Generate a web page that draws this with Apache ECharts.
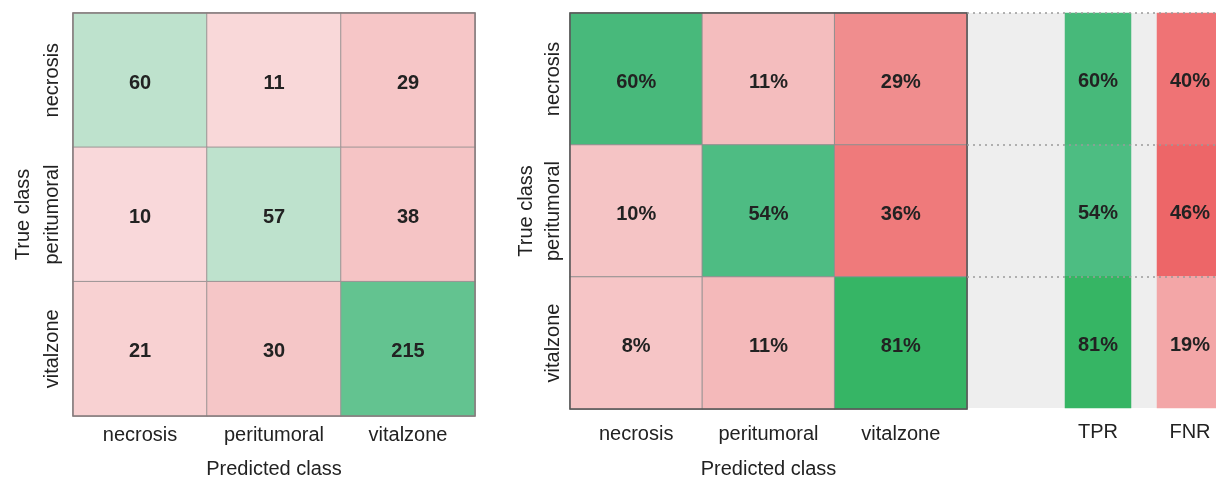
<!DOCTYPE html>
<html>
<head>
<meta charset="utf-8">
<script src="https://cdn.jsdelivr.net/npm/echarts@6/dist/echarts.min.js"></script>
<style>
  html, body { margin: 0; padding: 0; background: #fff; }
  #main { width: 1216px; height: 481px; }
</style>
</head>
<body>
<div id="main"></div>
<script>
// data
var classes = ['necrosis', 'peritumoral', 'vitalzone'];
var counts = [
  [60, 11, 29],
  [10, 57, 38],
  [21, 30, 215]
];
var percents = [
  [60, 11, 29],
  [10, 54, 36],
  [8, 11, 81]
];
var tpr = [60, 54, 81];
var fnr = [40, 46, 19];

// cell colours (kept apart from the values)
var countColors = [
  ['#bee2cd', '#f9d8d9', '#f6c6c7'],
  ['#f9d8da', '#bee2cd', '#f5c4c5'],
  ['#f8d1d2', '#f5c6c7', '#63c390']
];
var percentColors = [
  ['#48b97b', '#f4bdbe', '#f08d8e'],
  ['#f5c4c5', '#4ebc83', '#ef7a7b'],
  ['#f6c5c6', '#f4b9ba', '#36b565']
];
var tprColors = ['#47b97a', '#4dbd82', '#36b564'];
var fnrColors = ['#ef7375', '#ed6668', '#f3a6a7'];

var FONT = 'Liberation Sans';

function matrixData(vals, cols) {
  var out = [];
  vals.forEach(function (row, r) {
    row.forEach(function (v, c) {
      out.push({ value: [c, r, v], itemStyle: { color: cols[r][c] } });
    });
  });
  return out;
}
function columnData(vals, cols) {
  return vals.map(function (v, r) {
    return { value: [0, r, v], itemStyle: { color: cols[r] } };
  });
}

var labelStyle = { color: '#222', fontFamily: FONT, fontSize: 20, fontWeight: 'bold', offset: [0, 3] };

function catX(grid, data, margin, name, nameGap) {
  return {
    type: 'category', gridIndex: grid, data: data,
    axisLine: { show: false }, axisTick: { show: false }, splitLine: { show: false },
    axisLabel: { color: '#222', fontFamily: FONT, fontSize: 20, margin: margin },
    name: name, nameLocation: 'middle', nameGap: nameGap,
    nameTextStyle: { color: '#222', fontFamily: FONT, fontSize: 20 }
  };
}
function catY(grid, showLabels, margin, name, nameGap) {
  return {
    type: 'category', gridIndex: grid, data: classes, inverse: true,
    axisLine: { show: false }, axisTick: { show: false }, splitLine: { show: false },
    axisLabel: { show: showLabels, rotate: 90, color: '#222', fontFamily: FONT, fontSize: 20, margin: margin },
    name: name, nameLocation: 'middle', nameGap: nameGap,
    nameTextStyle: { color: '#222', fontFamily: FONT, fontSize: 20 }
  };
}

var chart = echarts.init(document.getElementById('main'));
var option = {
  animation: false,
  backgroundColor: '#fff',
  grid: [
    { left: 73, top: 13, width: 402, height: 403, show: true, borderColor: '#857c7d', borderWidth: 1.5, backgroundColor: 'transparent', z: 3, outerBoundsMode: 'none' },
    { left: 570, top: 13, width: 397, height: 396, show: true, borderColor: '#555', borderWidth: 1.5, backgroundColor: 'transparent', z: 3, outerBoundsMode: 'none' },
    { left: 967, top: 13, width: 260, height: 395, show: true, backgroundColor: '#eeeeee', borderWidth: 0, z: 0, outerBoundsMode: 'none' },
    { left: 1065, top: 13, width: 66, height: 395, outerBoundsMode: 'none' },
    { left: 1157, top: 13, width: 66, height: 395, outerBoundsMode: 'none' }
  ],
  xAxis: [
    catX(0, classes, 9, 'Predicted class', 43),
    catX(1, classes, 15, 'Predicted class', 50),
    { type: 'value', gridIndex: 2, show: false },
    catX(3, ['TPR'], 14, '', 0),
    catX(4, ['FNR'], 14, '', 0)
  ],
  yAxis: [
    catY(0, true, 11, 'True class', 40),
    catY(1, true, 7, 'True class', 34),
    {
      type: 'value', gridIndex: 2, min: 0, max: 3, interval: 1, z: 10,
      axisLine: { show: false }, axisTick: { show: false }, axisLabel: { show: false },
      splitLine: { show: true, showMinLine: false, lineStyle: { color: '#9a9a9a', type: [2, 4], width: 1.5 } }
    },
    catY(3, false, 0, '', 0),
    catY(4, false, 0, '', 0)
  ],
  series: [
    {
      type: 'heatmap', xAxisIndex: 0, yAxisIndex: 0,
      data: matrixData(counts, countColors),
      itemStyle: { borderColor: '#9d9495', borderWidth: 1 },
      label: Object.assign({ show: true, formatter: function (p) { return p.value[2]; } }, labelStyle),
      emphasis: { disabled: true }
    },
    {
      type: 'heatmap', xAxisIndex: 1, yAxisIndex: 1,
      data: matrixData(percents, percentColors),
      itemStyle: { borderColor: '#8f8f8f', borderWidth: 1 },
      label: Object.assign({ show: true, formatter: function (p) { return p.value[2] + '%'; } }, labelStyle),
      emphasis: { disabled: true }
    },
    {
      type: 'heatmap', xAxisIndex: 3, yAxisIndex: 3,
      data: columnData(tpr, tprColors),
      label: Object.assign({ show: true, formatter: function (p) { return p.value[2] + '%'; } }, labelStyle),
      emphasis: { disabled: true }
    },
    {
      type: 'heatmap', xAxisIndex: 4, yAxisIndex: 4,
      data: columnData(fnr, fnrColors),
      label: Object.assign({ show: true, formatter: function (p) { return p.value[2] + '%'; } }, labelStyle),
      emphasis: { disabled: true }
    }
  ]
};
chart.setOption(option);
</script>
</body>
</html>
